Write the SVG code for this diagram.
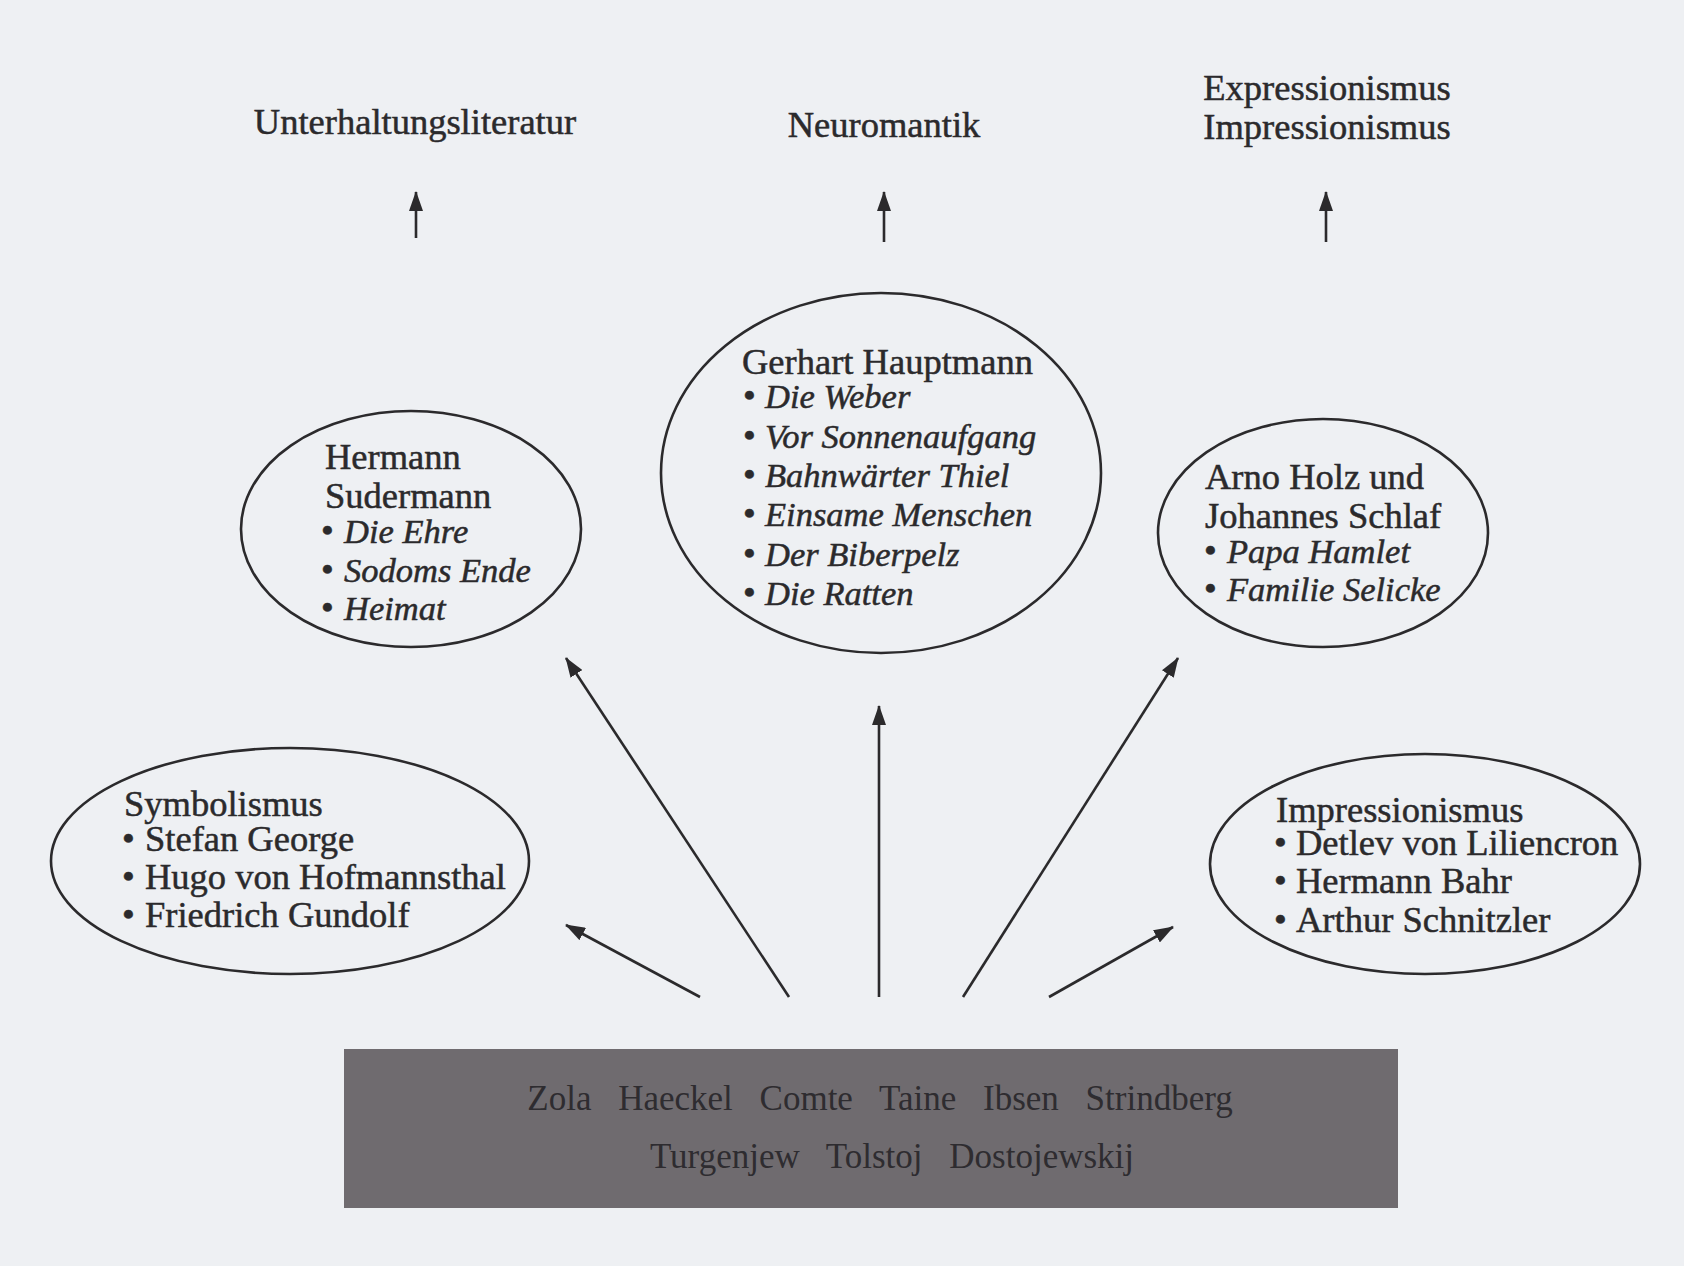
<svg xmlns="http://www.w3.org/2000/svg" width="1684" height="1266" viewBox="0 0 1684 1266">
<defs>
<style>
.t{font-family:"Liberation Serif","Times New Roman",serif;font-size:36.5px;fill:#2b2a2c;stroke:#2b2a2c;stroke-width:0.5}
.i{font-style:italic;font-size:34.5px}
.e{fill:none;stroke:#2b2a2c;stroke-width:2.6}
.c{stroke:#2b2a2c;stroke-width:2.6;fill:none}
.b{font-family:"Liberation Serif","Times New Roman",serif;font-size:35px;fill:#2e2c30;word-spacing:18px}
</style>
<marker id="ah2" viewBox="0 0 20 14" refX="19" refY="7" markerWidth="20" markerHeight="14" markerUnits="userSpaceOnUse" orient="auto">
<path d="M0,0 L20,7 L0,14 Z" fill="#2b2a2c"/>
</marker>
</defs>
<rect x="0" y="0" width="1684" height="1266" fill="#eef0f3"/>

<g id="top-unterhaltung">
<text class="t" x="415" y="134" text-anchor="middle">Unterhaltungsliteratur</text>
</g>
<g id="top-neuromantik">
<text class="t" x="884" y="137" text-anchor="middle">Neuromantik</text>
</g>
<g id="top-expressionismus">
<text class="t" x="1327" y="100" text-anchor="middle">Expressionismus</text>
<text class="t" x="1327" y="139" text-anchor="middle">Impressionismus</text>
</g>

<g id="sudermann">
<ellipse class="e" cx="411" cy="529" rx="170" ry="118"/>
<text class="t" x="325" y="469">Hermann</text>
<text class="t" x="325" y="508">Sudermann</text>
<text class="t" x="321" y="543">•</text><text class="t i" x="344" y="543">Die Ehre</text>
<text class="t" x="321" y="582">•</text><text class="t i" x="344" y="582">Sodoms Ende</text>
<text class="t" x="321" y="620">•</text><text class="t i" x="344" y="620">Heimat</text>
</g>

<g id="hauptmann">
<ellipse class="e" cx="881" cy="473" rx="220" ry="180"/>
<text class="t" x="742" y="374">Gerhart Hauptmann</text>
<text class="t" x="743" y="408">•</text><text class="t i" x="765" y="408">Die Weber</text>
<text class="t" x="743" y="448">•</text><text class="t i" x="765" y="448">Vor Sonnenaufgang</text>
<text class="t" x="743" y="487">•</text><text class="t i" x="765" y="487">Bahnwärter Thiel</text>
<text class="t" x="743" y="526">•</text><text class="t i" x="765" y="526">Einsame Menschen</text>
<text class="t" x="743" y="566">•</text><text class="t i" x="765" y="566">Der Biberpelz</text>
<text class="t" x="743" y="605">•</text><text class="t i" x="765" y="605">Die Ratten</text>
</g>

<g id="holz-schlaf">
<ellipse class="e" cx="1323" cy="533" rx="165" ry="114"/>
<text class="t" x="1205" y="489">Arno Holz und</text>
<text class="t" x="1205" y="528">Johannes Schlaf</text>
<text class="t" x="1204" y="563">•</text><text class="t i" x="1227" y="563">Papa Hamlet</text>
<text class="t" x="1204" y="601">•</text><text class="t i" x="1227" y="601">Familie Selicke</text>
</g>

<g id="symbolismus">
<ellipse class="e" cx="290" cy="861" rx="239" ry="113"/>
<text class="t" x="124" y="816">Symbolismus</text>
<text class="t" x="122" y="851">•</text><text class="t" x="145" y="851">Stefan George</text>
<text class="t" x="122" y="889">•</text><text class="t" x="145" y="889">Hugo von Hofmannsthal</text>
<text class="t" x="122" y="927">•</text><text class="t" x="145" y="927">Friedrich Gundolf</text>
</g>

<g id="impressionismus">
<ellipse class="e" cx="1425" cy="864" rx="215" ry="110"/>
<text class="t" x="1276" y="822">Impressionismus</text>
<text class="t" x="1274" y="855">•</text><text class="t" x="1296" y="855">Detlev von Liliencron</text>
<text class="t" x="1274" y="893">•</text><text class="t" x="1296" y="893">Hermann Bahr</text>
<text class="t" x="1274" y="932">•</text><text class="t" x="1296" y="932">Arthur Schnitzler</text>
</g>

<g id="vorbilder">
<rect x="344" y="1049" width="1054" height="159" fill="#6f6b6f"/>
<text class="b" x="880" y="1110" text-anchor="middle">Zola Haeckel Comte Taine Ibsen Strindberg</text>
<text class="b" x="892" y="1168" text-anchor="middle">Turgenjew Tolstoj Dostojewskij</text>
</g>

<g id="connectors">
<line class="c" x1="416" y1="238" x2="416" y2="192" marker-end="url(#ah2)"/>
<line class="c" x1="884" y1="242" x2="884" y2="192" marker-end="url(#ah2)"/>
<line class="c" x1="1326" y1="242" x2="1326" y2="192" marker-end="url(#ah2)"/>
<line class="c" x1="700" y1="997" x2="566" y2="925" marker-end="url(#ah2)"/>
<line class="c" x1="789" y1="997" x2="566" y2="658" marker-end="url(#ah2)"/>
<line class="c" x1="879" y1="997" x2="879" y2="706" marker-end="url(#ah2)"/>
<line class="c" x1="963" y1="997" x2="1178" y2="658" marker-end="url(#ah2)"/>
<line class="c" x1="1049" y1="997" x2="1173" y2="927" marker-end="url(#ah2)"/>
</g>
</svg>
